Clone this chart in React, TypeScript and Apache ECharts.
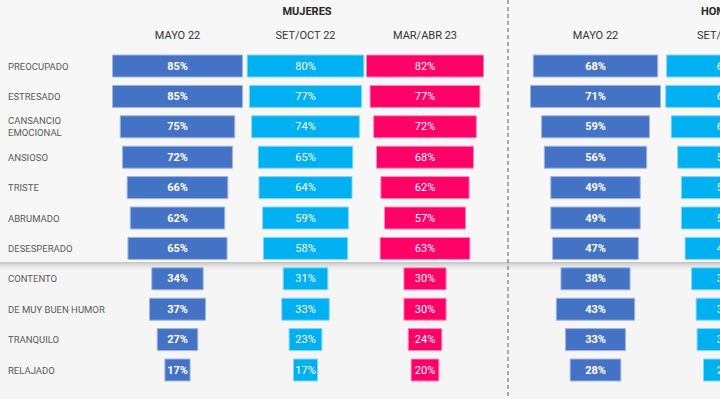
import React, { useEffect, useRef } from "react";
import * as echarts from "echarts";

const categories = [
  "PREOCUPADO",
  "ESTRESADO",
  "CANSANCIO\nEMOCIONAL",
  "ANSIOSO",
  "TRISTE",
  "ABRUMADO",
  "DESESPERADO",
  "CONTENTO",
  "DE MUY BUEN HUMOR",
  "TRANQUILO",
  "RELAJADO",
];

const mujeresMayo22 = [85, 85, 75, 72, 66, 62, 65, 34, 37, 27, 17];
const mujeresSetOct22 = [80, 77, 74, 65, 64, 59, 58, 31, 33, 23, 17];
const mujeresMarAbr23 = [82, 77, 72, 68, 62, 57, 63, 30, 30, 24, 20];
const hombresMayo22 = [68, 71, 59, 56, 49, 49, 47, 38, 43, 33, 28];
const hombresSetOct22 = [66, 67, 61, 54, 50, 50, 46, 39, 34, 33, 26];

const columnHeaders = ["MAYO 22", "SET/OCT 22", "MAR/ABR 23", "MAYO 22", "SET/OCT 22"];
const groupTitles = ["MUJERES", "HOMBRES"];

const columns = [
  { data: mujeresMayo22, color: "#4472C4", border: "#9DB5E3", bold: true, center: 177.5, scale: 1.54 },
  { data: mujeresSetOct22, color: "#00B0F0", border: "#80D8F8", bold: false, center: 305.5, scale: 1.47 },
  { data: mujeresMarAbr23, color: "#FF0066", border: "#FF8AB8", bold: false, center: 425, scale: 1.44 },
  { data: hombresMayo22, color: "#4472C4", border: "#9DB5E3", bold: true, center: 595.5, scale: 1.845 },
  { data: hombresSetOct22, color: "#00B0F0", border: "#80D8F8", bold: false, center: 727, scale: 1.845 },
];

const GRID_W = 150;
const TOP = 50.8;
const BOTTOM = 13.8;

export default function App() {
  const ref = useRef<HTMLDivElement>(null);

  useEffect(() => {
    document.body.style.margin = "0";
    if (!ref.current) return;
    const chart = echarts.init(ref.current, undefined, { renderer: "svg" });

    const grids: any[] = [];
    const xAxes: any[] = [];
    const yAxes: any[] = [];
    const series: any[] = [];

    columns.forEach((col, i) => {
      const max = GRID_W / col.scale;
      grids.push({
        left: col.center - GRID_W / 2,
        width: GRID_W,
        top: TOP,
        bottom: BOTTOM,
        outerBoundsMode: "none",
        containLabel: false,
      });
      xAxes.push({
        gridIndex: i,
        type: "value",
        min: 0,
        max,
        position: "top",
        name: columnHeaders[i],
        nameLocation: "middle",
        nameGap: 10,
        nameTextStyle: { color: "#333333", fontSize: 11, fontFamily: "Roboto" },
        axisLine: { show: false },
        axisTick: { show: false },
        axisLabel: { show: false },
        splitLine: { show: false },
      });
      yAxes.push({
        gridIndex: i,
        type: "category",
        inverse: true,
        data: categories,
        axisLine: { show: false },
        axisTick: { show: false },
        splitLine: { show: false },
        axisLabel:
          i === 0
            ? {
                show: true,
                align: "left",
                margin: col.center - GRID_W / 2 - 8,
                color: "#595959",
                fontSize: 9.5,
                fontFamily: "Roboto",
                lineHeight: 12,
                padding: [4, 0, 0, 0],
              }
            : { show: false },
      });
      series.push({
        type: "bar",
        xAxisIndex: i,
        yAxisIndex: i,
        stack: "s" + i,
        barWidth: 23,
        silent: true,
        itemStyle: { color: "transparent" },
        data: col.data.map((v) => (max - v) / 2),
      });
      series.push({
        type: "bar",
        xAxisIndex: i,
        yAxisIndex: i,
        stack: "s" + i,
        barWidth: 23,
        itemStyle: { color: col.color, borderColor: col.border, borderWidth: 1 },
        label: {
          show: true,
          position: "inside",
          formatter: "{c}%",
          color: "#ffffff",
          fontSize: 11,
          fontFamily: "Roboto",
          fontWeight: col.bold ? "bold" : "normal",
        },
        data: col.data,
      });
    });

    chart.setOption({
      animation: false,
      backgroundColor: "#f5f5f5",
      title: [
        {
          text: groupTitles[0],
          left: 302,
          top: 1,
          textAlign: "center",
          textStyle: { color: "#262626", fontSize: 11, fontWeight: "bold", fontFamily: "Roboto" },
        },
        {
          text: groupTitles[1],
          left: 722,
          top: 1,
          textAlign: "center",
          textStyle: { color: "#262626", fontSize: 11, fontWeight: "bold", fontFamily: "Roboto" },
        },
      ],
      graphic: [
        {
          type: "rect",
          z: -10,
          shape: { x: -20, y: -20, width: 760, height: 282 },
          style: {
            fill: "#f7f7f7",
            shadowColor: "rgba(0,0,0,0.28)",
            shadowBlur: 6,
            shadowOffsetY: 2,
          },
        },
        {
          type: "line",
          z: -5,
          shape: { x1: 508, y1: 0, x2: 508, y2: 399 },
          style: { stroke: "#8f8f8f", lineWidth: 1.5, lineDash: [4, 3] },
        },
      ],
      grid: grids,
      xAxis: xAxes,
      yAxis: yAxes,
      series,
    });

    return () => chart.dispose();
  }, []);

  return <div ref={ref} style={{ width: 720, height: 399 }} />;
}
